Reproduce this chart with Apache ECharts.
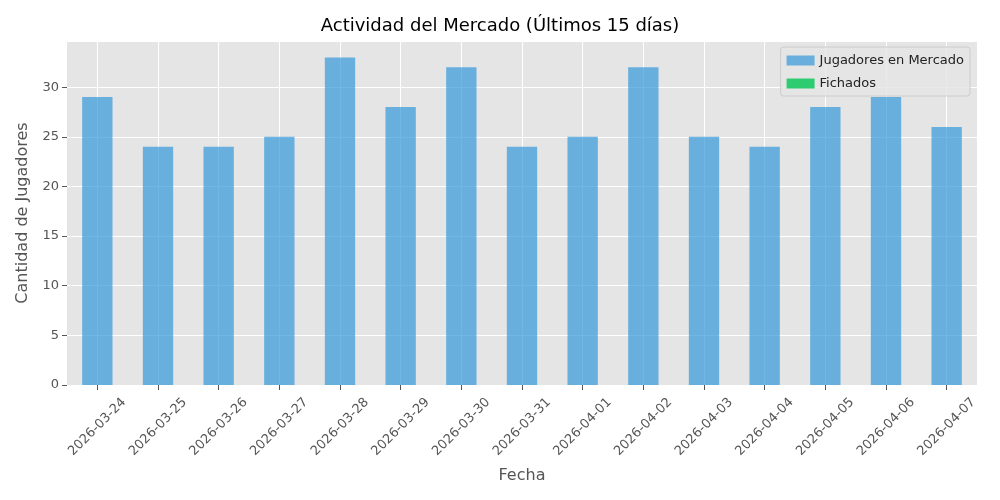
<!DOCTYPE html>
<html>
<head>
<meta charset="utf-8">
<script src="https://cdn.jsdelivr.net/npm/echarts@6/dist/echarts.min.js"></script>
<style>body{margin:0}#chart{width:1000px;height:500px}</style>
</head>
<body>
<div id="chart"></div>
<script>
var fechas = ['2026-03-24','2026-03-25','2026-03-26','2026-03-27','2026-03-28','2026-03-29','2026-03-30','2026-03-31','2026-04-01','2026-04-02','2026-04-03','2026-04-04','2026-04-05','2026-04-06','2026-04-07'];
var enMercado = [29,24,24,25,33,28,32,24,25,32,25,24,28,29,26];
var fichados = [0,0,0,0,0,0,0,0,0,0,0,0,0,0,0];

// half-slot axis, only used to put vertical grid lines at the bar centres
var halfSlots = [];
for (var i = 0; i < fechas.length * 2; i++) halfSlots.push(String(i));

var chart = echarts.init(document.getElementById('chart'));
var font = 'DejaVu Sans';
var option = {
    animation: false,
    textStyle: {fontFamily: font},
    title: {
        text: 'Actividad del Mercado (Últimos 15 días)',
        left: 'center', top: 12,
        textStyle: {fontFamily: font, fontSize: 18, fontWeight: 'normal', color: '#000'}
    },
    legend: {
        orient: 'vertical', right: 30, top: 47,
        itemWidth: 28, itemHeight: 10, itemGap: 10,
        padding: [7, 6, 6, 6],
        backgroundColor: 'rgba(229,229,229,0.8)',
        borderColor: '#cccccc', borderWidth: 1, borderRadius: 3,
        textStyle: {fontFamily: font, fontSize: 13, color: '#222'},
        data: [
            {name: 'Jugadores en Mercado', icon: 'rect'},
            {name: 'Fichados', icon: 'rect'}
        ]
    },
    grid: {left: 67, right: 23, top: 41, bottom: 115, backgroundColor: '#e5e5e5', show: true, borderWidth: 0},
    xAxis: [{
        type: 'category',
        data: fechas,
        name: 'Fecha', nameLocation: 'middle', nameGap: 83,
        nameTextStyle: {fontFamily: font, fontSize: 16, color: '#555'},
        axisLine: {show: false},
        axisTick: {show: true, alignWithLabel: true, length: 5, lineStyle: {color: '#555'}},
        axisLabel: {rotate: 45, fontSize: 13, color: '#555', margin: 42, align: 'center', verticalAlign: 'middle'},
        splitLine: {show: false}
    }, {
        type: 'category',
        data: halfSlots,
        position: 'bottom',
        axisLine: {show: false}, axisTick: {show: false}, axisLabel: {show: false},
        splitLine: {show: true, interval: function (idx) { return idx % 2 === 1; }, lineStyle: {color: '#fff', width: 1}}
    }],
    yAxis: {
        type: 'value', min: 0, max: 34.65, interval: 5,
        name: 'Cantidad de Jugadores', nameLocation: 'middle', nameGap: 36,
        nameTextStyle: {fontFamily: font, fontSize: 16, color: '#555'},
        axisLine: {show: false},
        axisTick: {show: true, length: 5, lineStyle: {color: '#555'}},
        axisLabel: {fontSize: 13, color: '#555', showMaxLabel: false},
        splitLine: {lineStyle: {color: '#fff', width: 1}}
    },
    series: [
        {name: 'Jugadores en Mercado', type: 'bar', stack: 'a', barWidth: '50%',
         itemStyle: {color: 'rgba(52,152,219,0.7)'}, data: enMercado},
        {name: 'Fichados', type: 'bar', stack: 'a', barWidth: '50%',
         itemStyle: {color: '#2ecc71'}, data: fichados}
    ]
};
chart.setOption(option);
</script>
</body>
</html>
